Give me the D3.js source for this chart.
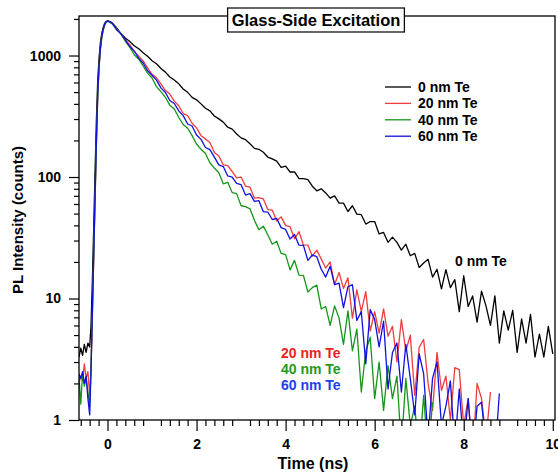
<!DOCTYPE html>
<html><head><meta charset="utf-8">
<script src="https://cdn.jsdelivr.net/npm/d3@7"></script>
<style>
body{margin:0;background:#fff}
svg{display:block}
text{font-family:Arial,"Liberation Sans",Helvetica,sans-serif;font-weight:bold;fill:#000}
</style>
</head><body>
<svg id="chart" width="558" height="473"></svg>
<script>
// ---- data ----
const timeNs = [-0.64,-0.6,-0.56,-0.52,-0.48,-0.44,-0.4,-0.37,-0.34,-0.31,-0.28,-0.25,-0.22,-0.19,-0.16,-0.13,-0.1,-0.07,-0.04,
0,0.1,0.2,0.3,0.4,0.5,0.6,0.7,0.8,0.9,1,1.1,1.2,1.3,1.4,1.5,1.6,1.7,1.8,1.9,2,2.1,2.2,2.3,2.4,2.5,2.6,2.7,2.8,2.9,
3,3.1,3.2,3.3,3.4,3.5,3.6,3.7,3.8,3.9,4,4.1,4.2,4.3,4.4,4.5,4.6,4.7,4.8,4.9,5,5.1,5.2,5.3,5.4,5.5,5.6,5.7,5.8,5.9,
6,6.1,6.2,6.3,6.4,6.5,6.6,6.7,6.8,6.9,7,7.1,7.2,7.3,7.4,7.5,7.6,7.7,7.8,7.9,8,8.1,8.2,8.3,8.4,8.5,8.6,8.7,8.8,8.9,
9,9.1,9.2,9.3,9.4,9.5,9.6,9.7,9.8,9.9,10];

const te0 = [3.3,3.9,3.4,4.2,3.6,4.3,4.0,6,14,38,110,290,620,950,1270,1510,1690,1820,1895,
1935,1865,1700,1520,1395,1305,1205,1135,1055,985,905,855,782,730,665,628,585,530,498,452,432,400,368,350,318,301,283,257,248,226,
210,203,188,172,169,160,146,141,135,120,123,110,110,97,97,95,84,77,80,74,67,70,61,61,52,58,49.5,49,41,43,
43,34,35,29,32,29,25,28,22.5,23.5,18,19.6,21,15,17.4,12,17.3,12.3,14.3,7.8,15.4,8.6,10.5,6.4,11.5,8.7,6.0,10.5,4.3,7.9,
5.5,8.0,3.6,6.8,4.3,7.4,3.3,5.1,3.3,5.9,3.5];

const te20 = [2.0,2.3,2.1,2.9,2.2,2.5,1.6,2.6,7,21,62,180,450,790,1120,1400,1600,1760,1865,
1925,1870,1640,1520,1340,1230,1078,988,904,792,700,656,584,515,482,421,386,333,321,277,254,219,206,192,159,149,126,124,111,98.5,
100,84,82.5,67,67.7,66,54,53.4,43.4,47,39.8,39,31,35.5,27.6,27.5,22.3,25,21.2,17.8,20,13,16.4,12.1,14.8,6.9,11.8,7.8,11.4,5.4,
7.8,5.2,8.2,4.9,5.9,3.0,6.7,3.7,5.0,1.6,3.97,4.6,2.0,1.2,3.6,1.75,2.3,1.0,2.7,2.6,0.9,1.5,0.5,2.0,1.5,0.7,1.7];

const te40 = [2.3,1.35,2.4,1.9,2.2,1.7,1.3,2.8,7.5,22,65,185,460,800,1130,1410,1610,1765,1868,
1925,1830,1675,1513,1310,1172,1014,932,823,717,653,555,504,453,389,363,309,270,252,219,187,169,156,131,118.5,108.5,88,90.5,74.5,73,
58,57,54.7,44,36.8,39.4,33.5,28,29.6,23.5,23,17.2,20.6,15.6,15.5,11.3,12.3,12.9,8.2,8.6,6.0,8.7,6.9,4.2,7.9,3.7,5.6,1.7,3.7,4.8,
1.5,3.0,1.2,2.8,1.5,2.3,0.6,2.2,0.9,1.3,0.5,1.6,0.5,1.4];

const te60 = [2.4,2.2,2.5,2.0,2.3,1.5,1.1,2.5,8,24,70,200,480,820,1150,1420,1620,1770,1870,
1925,1857,1640,1508,1343,1186,1092,952,868,749,688,627,542,496,426,403,350,320,273,263,222,204,175,168,146,126,122,102,100,88.5,
86.5,71,73,63,63.8,51.8,51.5,44.7,45.6,38.3,37,30.9,33.6,27.5,27.4,20.6,22.8,22.1,17.4,15,18.4,13,13.4,8.4,12.5,13,6.6,7.8,2.9,8.1,
6.7,4.0,6.5,1.8,3.6,4.3,1.7,4.2,2.2,1.1,3.5,2.4,0.7,2.2,3.0,0.9,1.3,2.1,0.6,1.8,0.6,1.5,0.5,1.3,1.4,0.6,0.5,0.5,1.65];

const seriesNames = ["0 nm Te","20 nm Te","40 nm Te","60 nm Te"];
const seriesValues = [te0, te20, te40, te60];
const lineColors = ["#000000","#f03c3c","#15961a","#1010e0"];
const labelColors = ["#000000","#ee2222","#1e9a1e","#2040f0"];

const xMajorTicks = [0,2,4,6,8,10];
const xMinorTicks = [-0.6,-0.4,-0.2,0.2,0.4,0.6,0.8,1.2,1.4,1.6,1.8,2.2,2.4,2.6,2.8,3.2,3.4,3.6,3.8,4.2,4.4,4.6,4.8,
5.2,5.4,5.6,5.8,6.2,6.4,6.6,6.8,7.2,7.4,7.6,7.8,8.2,8.4,8.6,8.8,9.2,9.4,9.6,9.8];
const yMajorTicks = [1,10,100,1000];
const yMinorTicks = [2,3,4,5,6,7,8,9,20,30,40,50,60,70,80,90,200,300,400,500,600,700,800,900,2000];

const titleText = "Glass-Side Excitation";
const xLabel = "Time (ns)";
const yLabel = "PL Intensity (counts)";

// ---- layout ----
const L = 79, R = 555, T = 16, B = 420;
const svg = d3.select("#chart");
svg.append("rect").attr("width",558).attr("height",473).attr("fill","#fff");

const x = d3.scaleLinear().domain([-0.64, 10.05]).range([L, R]);
const y = d3.scaleLog().domain([1, 2115]).range([B, T]);

svg.append("defs").append("clipPath").attr("id","clip")
  .append("rect").attr("x",L).attr("y",T).attr("width",R-L).attr("height",B-T);

// axes
const fontTick = "14px";
const gx = svg.append("g").attr("transform",`translate(0,${B})`)
  .call(d3.axisBottom(x).tickValues(xMajorTicks).tickSize(11).tickPadding(8).tickFormat(d3.format("d")));
const gxm = svg.append("g").attr("transform",`translate(0,${B})`)
  .call(d3.axisBottom(x).tickValues(xMinorTicks).tickSize(6).tickFormat(""));
const gy = svg.append("g").attr("transform",`translate(${L},0)`)
  .call(d3.axisLeft(y).tickValues(yMajorTicks).tickSize(10).tickPadding(8).tickFormat(d3.format("d")));
const gym = svg.append("g").attr("transform",`translate(${L},0)`)
  .call(d3.axisLeft(y).tickValues(yMinorTicks).tickSize(5).tickFormat(""));
[gx,gxm,gy,gym].forEach(g=>{
  g.select(".domain").remove();
  g.selectAll("line").attr("stroke","#000").attr("stroke-width",1.2);
  g.selectAll("text").attr("fill","#000").style("font-size",fontTick).style("font-weight","bold")
   .style("font-family","Arial, 'Liberation Sans', sans-serif");
});

// lines
const pts = vals => vals.map((v,i)=>({t:timeNs[i], v:v}));
const line = d3.line().defined(d=>d.v!=null).x(d=>x(d.t)).y(d=>y(Math.max(d.v,0.3)));
const plot = svg.append("g").attr("clip-path","url(#clip)");
seriesValues.forEach((vals,i)=>{
  plot.append("path").datum(pts(vals))
    .attr("fill","none").attr("stroke",lineColors[i]).attr("stroke-width",1.3)
    .attr("stroke-linejoin","round").attr("d",line);
});

// frame
svg.append("rect").attr("x",L).attr("y",T).attr("width",R-L).attr("height",B-T)
  .attr("fill","none").attr("stroke","#000").attr("stroke-width",1.3);

// title box
const tb = svg.append("g");
const tt = tb.append("text").attr("x",316).attr("y",26).attr("text-anchor","middle")
  .style("font-size","16.5px").text(titleText);
const bb = tt.node().getBBox();
tb.insert("rect","text").attr("x",bb.x-4).attr("y",8).attr("width",bb.width+8).attr("height",24)
  .attr("fill","#fff").attr("stroke","#000").attr("stroke-width",1.2);

// axis labels
svg.append("text").attr("x",313).attr("y",469).attr("text-anchor","middle")
  .style("font-size","16px").text(xLabel);
svg.append("text").attr("transform","translate(23,220) rotate(-90)").attr("text-anchor","middle")
  .style("font-size","15px").text(yLabel);

// legend
const lg = svg.append("g");
seriesNames.forEach((n,i)=>{
  const yy = 87 + i*16.4;
  lg.append("line").attr("x1",385).attr("x2",411).attr("y1",yy).attr("y2",yy)
    .attr("stroke",lineColors[i]).attr("stroke-width",1.3);
  lg.append("text").attr("x",418).attr("y",yy).attr("dy","0.35em").style("font-size","14px").text(n);
});

// annotations
svg.append("text").attr("x",455).attr("y",261).attr("dy","0.35em").style("font-size","14px")
  .attr("fill",labelColors[0]).text(seriesNames[0]);
[1,2,3].forEach((k,j)=>{
  svg.append("text").attr("x",281).attr("y",353+j*15.8).attr("dy","0.35em").style("font-size","14px")
    .style("fill",labelColors[k]).text(seriesNames[k]);
});
</script>
</body></html>
